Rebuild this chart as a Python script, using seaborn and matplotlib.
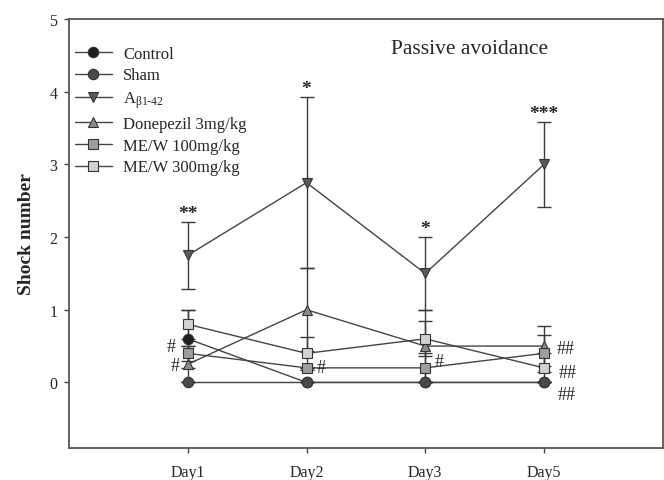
import numpy as np
import pandas as pd
import matplotlib
matplotlib.use("Agg")
import matplotlib.pyplot as plt
import seaborn as sns

sns.set_style("ticks")
plt.rcParams['font.family'] = ['Liberation Serif', 'DejaVu Serif']
plt.rcParams['mathtext.fontset'] = 'custom'
plt.rcParams['mathtext.rm'] = 'Liberation Serif'
plt.rcParams['mathtext.it'] = 'Liberation Serif:italic'

# values
days = ["Day1", "Day2", "Day3", "Day5"]
groups = ["Control", "Sham", r"A$_{\mathregular{\beta1\text{-}42}}$",
          "Donepezil 3mg/kg", "ME/W 100mg/kg", "ME/W 300mg/kg"]

control = [0.6, 0.0, 0.0, 0.0]
sham = [0.0, 0.0, 0.0, 0.0]
abeta = [1.75, 2.75, 1.5, 3.0]
donepezil = [0.25, 1.0, 0.5, 0.5]
mew100 = [0.4, 0.2, 0.2, 0.4]
mew300 = [0.8, 0.4, 0.6, 0.2]

control_err = [0.4, 0.0, 0.0, 0.0]
sham_err = [0.0, 0.0, 0.0, 0.0]
abeta_err = [0.46, 1.18, 0.5, 0.58]
donepezil_err = [0.25, 0.57, 0.5, 0.28]
mew100_err = [0.1, 0.0, 0.2, 0.25]
mew300_err = [0.2, 0.23, 0.24, 0.2]

stars = ["**", "*", "*", "***"]

means = [control, sham, abeta, donepezil, mew100, mew300]
errs = [control_err, sham_err, abeta_err, donepezil_err, mew100_err, mew300_err]

colors = ["#1e1e1e", "#4a4a4a", "#5a5a5a", "#8c8c8c", "#9e9e9e", "#d2d2d2"]
marks = ["o", "o", "v", "^", "s", "s"]

rows = []
for g, m in zip(groups, means):
    for i, v in enumerate(m):
        rows.append({"group": g, "day": i + 1, "shock": v})
df = pd.DataFrame(rows)

fig = plt.figure(figsize=(6.64, 4.81), dpi=100)
ax = fig.add_axes([0.104, 0.067, 0.894, 0.891])

xs = np.arange(1, len(days) + 1)
for g, m, e in zip(groups, means, errs):
    ax.errorbar(xs, m, yerr=e, fmt="none", ecolor="#3a3a3a",
                elinewidth=1.0, capsize=5, capthick=1.0, zorder=1)

n_before = len(ax.get_lines())
sns.lineplot(data=df, x="day", y="shock", hue="group", style="group",
             hue_order=groups, style_order=groups,
             palette=dict(zip(groups, colors)),
             markers=dict(zip(groups, marks)), dashes=False,
             linewidth=1.0, markersize=7.5,
             markeredgecolor="#333333", markeredgewidth=0.8,
             ax=ax, zorder=3, legend=False)

# seaborn's lines: dark gray line, marker keeps its group fill
for ln, c in zip(ax.get_lines()[n_before:], colors):
    ln.set_color("#444444")
    ln.set_markerfacecolor(c)
    ln.set_markeredgecolor("#333333")

handles = []
for c, mk in zip(colors, marks):
    h, = ax.plot([], [], color="#444444", marker=mk, markersize=7.5,
                 markerfacecolor=c, markeredgecolor="#333333",
                 markeredgewidth=0.8, linewidth=1.0)
    handles.append(h)
ax.legend(handles, groups, loc="upper left", frameon=False, fontsize=12,
          handlelength=2.2, handletextpad=0.7, labelspacing=0.35,
          borderaxespad=0.0, borderpad=0.35, bbox_to_anchor=(0.0, 0.952))

# significance marks
for i, s in enumerate(stars):
    top = abeta[i] + abeta_err[i]
    ax.text(xs[i], top + 0.0, s, ha="center", va="bottom", fontsize=14,
            fontweight="bold")

hash_marks = [(0.86, 0.49, "#"), (0.89, 0.23, "#"), (2.12, 0.21, "#"),
              (3.12, 0.29, "#"), (4.18, 0.46, "##"), (4.2, 0.14, "##"),
              (4.19, -0.17, "##")]
for hx, hy, ht in hash_marks:
    ax.text(hx, hy, ht, ha="center", va="center", fontsize=13)

ax.text(3.37, 4.6, "Passive avoidance", ha="center", va="center", fontsize=15.5)

ax.set_xlim(0, 5)
ax.set_ylim(-0.9, 5)
ax.set_xticks(xs)
ax.set_xticklabels(days)
ax.set_yticks([0, 1, 2, 3, 4, 5])
ax.set_xlabel("")
ax.set_ylabel("Shock number", fontsize=14, fontweight="bold", labelpad=10)
ax.tick_params(axis="both", direction="out", length=3.5, width=1.0,
               color="#444444", labelsize=11.5)
ax.tick_params(axis="x", pad=8)
ax.tick_params(axis="y", pad=5)
for sp in ax.spines.values():
    sp.set_visible(True)
    sp.set_color("#555555")
    sp.set_linewidth(1.3)

fig.savefig("out.png", dpi=100)
